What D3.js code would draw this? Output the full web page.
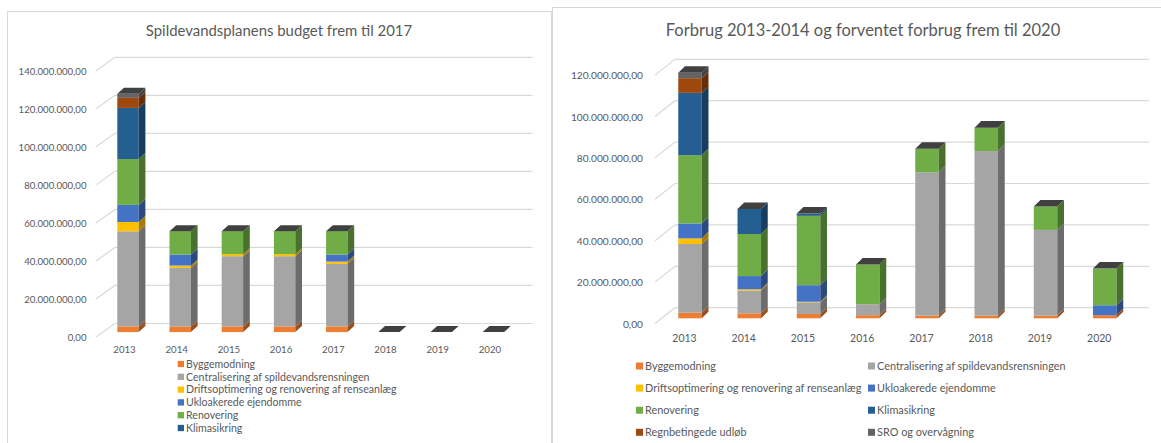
<!DOCTYPE html>
<html>
<head>
<meta charset="utf-8">
<script src="https://cdn.jsdelivr.net/npm/d3@7"></script>
<style>
  body { margin: 0; background: #fff; }
  svg { display: block; font-family: Lato, 'Open Sans', sans-serif; }
</style>
</head>
<body>
<svg id="chart" width="1161" height="443"></svg>
<script>
const years = ['2013', '2014', '2015', '2016', '2017', '2018', '2019', '2020'];
const seriesNames = [
  'Byggemodning',
  'Centralisering af spildevandsrensningen',
  'Driftsoptimering og renovering af renseanlæg',
  'Ukloakerede ejendomme',
  'Renovering',
  'Klimasikring',
  'Regnbetingede udløb',
  'SRO og overvågning'
];
const seriesColors = ['#ED7D31', '#A5A5A5', '#FFC000', '#4472C4', '#70AD47', '#255E91', '#9E480E', '#636363'];

// Spildevandsplanens budget (mio. kr.)
const budgetByggemodning   = [3.0, 3.0, 3.0, 3.0, 3.0, 0, 0, 0];
const budgetCentralisering = [50.0, 30.8, 36.9, 36.9, 32.9, 0, 0, 0];
const budgetDrift          = [4.9, 1.2, 1.1, 1.1, 1.2, 0, 0, 0];
const budgetUkloakerede    = [9.0, 5.8, 0, 0, 3.7, 0, 0, 0];
const budgetRenovering     = [24.1, 12.3, 12.1, 12.1, 12.3, 0, 0, 0];
const budgetKlimasikring   = [26.9, 0, 0, 0, 0, 0, 0, 0];
const budgetRegnbetingede  = [5.3, 0, 0, 0, 0, 0, 0, 0];
const budgetSRO            = [2.1, 0, 0, 0, 0, 0, 0, 0];

// Forbrug og forventet forbrug (mio. kr.)
const forbrugByggemodning   = [2.7, 2.4, 2.1, 1.5, 1.3, 1.3, 1.3, 1.5];
const forbrugCentralisering = [33.2, 11.0, 5.6, 5.3, 69.2, 79.5, 41.4, 0];
const forbrugDrift          = [2.7, 0.6, 0.3, 0, 0, 0, 0, 0];
const forbrugUkloakerede    = [7.2, 6.4, 8.0, 0, 0, 0, 0, 4.8];
const forbrugRenovering     = [33.0, 20.3, 33.5, 19.2, 11.4, 11.3, 11.3, 17.7];
const forbrugKlimasikring   = [30.1, 12.1, 1.1, 0, 0, 0, 0, 0];
const forbrugRegnbetingede  = [7.1, 0, 0, 0, 0, 0, 0, 0];
const forbrugSRO            = [2.6, 0, 0, 0, 0, 0, 0, 0];

const leftTicks  = [0, 20, 40, 60, 80, 100, 120, 140];
const rightTicks = [0, 20, 40, 60, 80, 100, 120];

const dk = d3.formatLocale({ decimal: ',', thousands: '.', grouping: [3], currency: ['', ' kr.'] });
const fmt = dk.format(',.2f');
const textCol = '#595959';

const svg = d3.select('#chart');
svg.append('rect').attr('width', 1161).attr('height', 443).attr('fill', '#fff');

function toRows(list) {
  return years.map((yr, i) => {
    const r = { year: yr };
    seriesNames.forEach((s, k) => { r[s] = list[k][i]; });
    return r;
  });
}

function drawChart(o) {
  const g = svg.append('g');

  g.append('rect')
    .attr('x', o.panel[0] + 0.5).attr('y', o.panel[1] + 0.5)
    .attr('width', o.panel[2]).attr('height', o.panel[3])
    .attr('fill', '#fff').attr('stroke', '#d9d9d9');

  g.append('text')
    .attr('x', o.titleX).attr('y', o.titleY).attr('dy', '0.35em')
    .attr('text-anchor', 'middle')
    .attr('font-size', o.titleSize).attr('fill', textCol)
    .text(o.title);

  // back wall scale
  const y = d3.scaleLinear().domain([0, d3.max(o.ticks)]).range(o.yRange);
  const [wdx, wdy] = o.wallDepth;

  // gridlines (floor-to-wall diagonal + wall line)
  g.append('g').selectAll('path').data(o.ticks).join('path')
    .attr('d', t => `M${o.gridX0},${y(t) - wdy}L${o.gridX0 + wdx},${y(t)}H${o.gridX1}`)
    .attr('fill', 'none').attr('stroke', '#d9d9d9').attr('stroke-width', 1.2);

  // y labels in the front plane
  const gy = g.append('g')
    .attr('transform', `translate(${o.labelX},${-wdy})`)
    .call(d3.axisLeft(y).tickValues(o.ticks).tickSize(0).tickPadding(0)
      .tickFormat(d => fmt(d * 1e6)));
  gy.select('.domain').remove();
  gy.selectAll('text').attr('font-size', o.yFont).attr('fill', textCol)
    .attr('font-family', 'Lato, sans-serif').attr('dy', '0.35em');

  // bars
  const x = d3.scaleBand().domain(years).range(o.bandRange)
    .paddingInner(o.padIn).paddingOuter(o.padIn / 2);
  const bw = x.bandwidth();
  const h = v => y(0) - y(v);
  const base = y(0) + o.barBase;
  const [bdx, bdy] = o.barDepth;

  const rows = toRows(o.series);
  const stack = d3.stack().keys(seriesNames)(rows);

  const barsG = g.append('g');
  stack.forEach((layer, k) => {
    const col = seriesColors[k];
    const side = d3.color(col).darker(1.2);
    const segs = layer.filter(d => d[1] - d[0] > 0);
    const lg = barsG.append('g');
    lg.selectAll('rect').data(segs).join('rect')
      .attr('x', d => x(d.data.year))
      .attr('y', d => base - h(d[1]))
      .attr('width', bw)
      .attr('height', d => h(d[1]) - h(d[0]))
      .attr('fill', col);
    lg.selectAll('path').data(segs).join('path')
      .attr('d', d => {
        const x1 = x(d.data.year) + bw;
        const yt = base - h(d[1]), yb = base - h(d[0]);
        return `M${x1},${yt}L${x1 + bdx},${yt + bdy}V${yb + bdy}L${x1},${yb}Z`;
      })
      .attr('fill', side);
  });

  const totals = rows.map(r => ({ year: r.year, total: d3.sum(seriesNames, s => r[s]) }));
  barsG.append('g').selectAll('path').data(totals).join('path')
    .attr('d', d => {
      const x0 = x(d.year), x1 = x0 + bw, yt = base - h(d.total);
      return `M${x0},${yt}L${x0 + bdx},${yt + bdy}H${x1 + bdx}L${x1},${yt}Z`;
    })
    .attr('fill', '#404040');

  // category labels
  const gx = g.append('g')
    .attr('transform', `translate(${o.xLabelShift},${o.xLabelY})`)
    .call(d3.axisBottom(x).tickSize(0).tickPadding(0));
  gx.select('.domain').remove();
  gx.selectAll('text').attr('font-size', o.xFont).attr('fill', textCol)
    .attr('font-family', 'Lato, sans-serif').attr('dy', '0.35em');

  // legend
  const items = seriesNames.slice(0, o.legend.count);
  const lg = g.append('g').selectAll('g').data(items).join('g')
    .attr('transform', (d, i) => {
      const c = i % o.legend.cols, r = Math.floor(i / o.legend.cols);
      return `translate(${o.legend.x[c]},${o.legend.y + r * o.legend.rowH})`;
    });
  lg.append('rect')
    .attr('x', 0).attr('y', -o.legend.sq / 2)
    .attr('width', o.legend.sq).attr('height', o.legend.sq)
    .attr('fill', (d, i) => seriesColors[i]);
  lg.append('text')
    .attr('x', o.legend.sq + 2).attr('dy', '0.35em')
    .attr('font-size', o.legend.font).attr('fill', textCol)
    .text(d => d);
}

drawChart({
  panel: [7, 11, 544, 500],
  title: 'Spildevandsplanens budget frem til 2017',
  titleX: 279, titleY: 31, titleSize: 14.9,
  ticks: leftTicks,
  yRange: [323.5, 57.3],
  wallDepth: [19, -13.5],
  gridX0: 96, gridX1: 532.5,
  labelX: 86.5, yFont: 9.6,
  bandRange: [101.9, 519.5], padIn: 0.59,
  barBase: 8.6, barDepth: [6.7, -6],
  xLabelShift: -3.5, xLabelY: 350, xFont: 9.7,
  series: [budgetByggemodning, budgetCentralisering, budgetDrift, budgetUkloakerede,
           budgetRenovering, budgetKlimasikring, budgetRegnbetingede, budgetSRO],
  legend: { count: 6, cols: 1, x: [177.7], y: 364, rowH: 12.8, sq: 6.3, font: 10.6 }
});

drawChart({
  panel: [552, 7, 700, 500],
  title: 'Forbrug 2013-2014 og forventet forbrug frem til 2020',
  titleX: 863, titleY: 30, titleSize: 16.5,
  ticks: rightTicks,
  yRange: [307.7, 59.3],
  wallDepth: [20, -15.8],
  gridX0: 655, gridX1: 1149,
  labelX: 643, yFont: 10.2,
  bandRange: [660.4, 1134.4], padIn: 0.603,
  barBase: 10.6, barDepth: [6.7, -6.6],
  xLabelShift: -5.5, xLabelY: 338.5, xFont: 10.5,
  series: [forbrugByggemodning, forbrugCentralisering, forbrugDrift, forbrugUkloakerede,
           forbrugRenovering, forbrugKlimasikring, forbrugRegnbetingede, forbrugSRO],
  legend: { count: 8, cols: 2, x: [636, 868], y: 366, rowH: 22.1, sq: 7, font: 10.9 }
});
</script>
</body>
</html>
